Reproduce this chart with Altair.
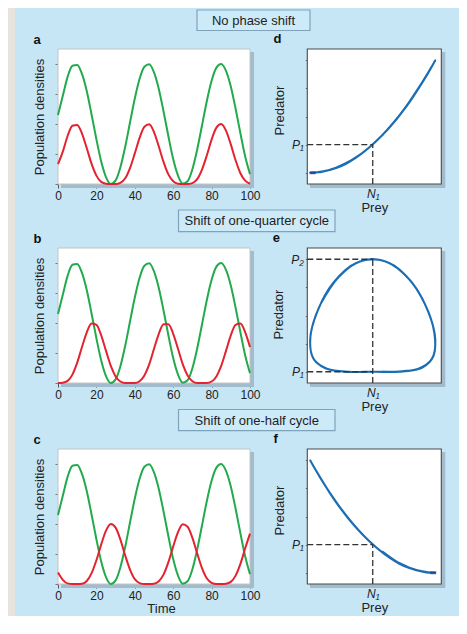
import altair as alt
import pandas as pd

# ---------------- data ----------------
TIME = [0, 2.5, 5, 7.5, 10, 12.5, 15, 17.5, 20, 22.5, 25, 27.5, 30, 32.5, 35, 37.5,
        40, 42.5, 45, 47.5, 50, 52.5, 55, 57.5, 60, 62.5, 65, 67.5, 70, 72.5, 75,
        77.5, 80, 82.5, 85, 87.5, 90, 92.5, 95, 97.5, 100]

PREY = [2.30, 2.94, 3.57, 3.94, 3.97, 3.67, 3.09, 2.31, 1.49, 0.75, 0.23, 0.00,
        0.12, 0.56, 1.24, 2.05, 2.85, 3.51, 3.91, 3.99, 3.72, 3.17, 2.41, 1.59,
        0.83, 0.28, 0.01, 0.09, 0.49, 1.15, 1.95, 2.76, 3.44, 3.88, 4.00, 3.77,
        3.25, 2.51, 1.69, 0.92, 0.33]

PRED_A = [0.66, 1.08, 1.60, 1.94, 1.97, 1.68, 1.19, 0.67, 0.28, 0.07, 0.01, 0.00,
          0.00, 0.04, 0.19, 0.53, 1.02, 1.54, 1.91, 1.99, 1.73, 1.25, 0.73, 0.32,
          0.09, 0.01, 0.00, 0.00, 0.03, 0.16, 0.48, 0.95, 1.48, 1.88, 2.00, 1.78,
          1.32, 0.79, 0.36, 0.11, 0.01]

PRED_B = [0.00, 0.01, 0.07, 0.28, 0.68, 1.20, 1.69, 1.98, 1.94, 1.59, 1.07, 0.57,
          0.22, 0.05, 0.00, 0.00, 0.00, 0.06, 0.25, 0.62, 1.14, 1.64, 1.96, 1.96,
          1.64, 1.14, 0.62, 0.25, 0.06, 0.00, 0.00, 0.00, 0.05, 0.22, 0.57, 1.07,
          1.59, 1.94, 1.98, 1.69, 1.20]

PRED_C = [0.38, 0.14, 0.02, 0.00, 0.00, 0.01, 0.10, 0.36, 0.79, 1.32, 1.78, 2.00,
          1.88, 1.48, 0.95, 0.48, 0.16, 0.03, 0.00, 0.00, 0.01, 0.09, 0.32, 0.73,
          1.25, 1.73, 1.99, 1.91, 1.54, 1.02, 0.53, 0.19, 0.04, 0.00, 0.00, 0.01,
          0.07, 0.28, 0.67, 1.19, 1.68]

TIME_TICKS = [0, 20, 40, 60, 80, 100]
DENSITY_TICKS = [0, 1, 2, 3, 4]
PREY_TICKS = [0, 1, 2, 3, 4]
PRED_TICKS = [0, 0.5, 1, 1.5, 2]

TITLES = ["No phase shift", "Shift of one-quarter cycle", "Shift of one-half cycle"]
LEFT_LETTERS = ["a", "b", "c"]
RIGHT_LETTERS = ["d", "e", "f"]

N1 = 2.0
P1 = [0.5, 0.0, 0.5]
P2 = 2.0
END_MARK_D = [0.08, 0.0]
END_MARK_F = [3.93, 0.0]

# ---------------- style ----------------
FONT = "Liberation Sans"
BLUE_BG = "#c6e6f6"
BOX_FILL = "#cdeaf8"
BOX_STROKE = "#7fa3bb"
SHADOW = "#a3bccd"
GREEN = "#22aa4c"
RED = "#e3232f"
CURVE = "#1b6db4"
MARK = "#1d3c8c"
BEIGE = "#e7e4dd"

LW, LH = 192, 135
RW, RH = 134, 135
X_DOM = [-0.09, 4.19]
Y_DOM = [-0.2, 2.2]

ONE = pd.DataFrame({"k": [0]})


def frame(w, h, stroke, sw):
    shadow = alt.Chart(ONE).mark_rect(color=SHADOW).encode(
        x=alt.value(3), x2=alt.value(w + 4), y=alt.value(3), y2=alt.value(h + 4))
    white = alt.Chart(ONE).mark_rect(fill="white", stroke=stroke, strokeWidth=sw).encode(
        x=alt.value(0), x2=alt.value(w), y=alt.value(0), y2=alt.value(h))
    return [shadow, white]


def letter_title(t):
    return alt.TitleParams(text=t, anchor="start", font=FONT, fontSize=13,
                           fontWeight="bold", color="#111", offset=2)


def left_panel(pred, letter, show_time):
    df = pd.DataFrame({"t": TIME, "Prey": PREY, "Predator": pred}).melt(
        "t", var_name="species", value_name="v")
    xaxis = dict(values=TIME_TICKS, tickSize=4, tickColor="#555", labelPadding=2,
                 labelFontSize=12, labelFlush=False, labelOverlap=False)
    if show_time:
        xaxis.update(title="Time", titlePadding=1, titleX=103)
    else:
        xaxis.update(title=None)
    lines = alt.Chart(df).mark_line(strokeWidth=2, interpolate="monotone").encode(
        x=alt.X("t:Q", scale=alt.Scale(domain=[0, 100], nice=False), axis=alt.Axis(**xaxis)),
        y=alt.Y("v:Q", scale=alt.Scale(domain=[0, 4.5], nice=False),
                axis=alt.Axis(values=DENSITY_TICKS, labels=False, tickSize=3,
                              tickColor="#777", title="Population densities",
                              titlePadding=8)),
        color=alt.Color("species:N", scale=alt.Scale(domain=["Prey", "Predator"],
                                                     range=[GREEN, RED]), legend=None),
    )
    return alt.layer(*frame(LW, LH, "#c4c4c4", 1), lines).properties(
        width=LW, height=LH, title=letter_title(letter))


def right_panel(pred, letter, ylabel_expr, guides, end_mark, title_y):
    df = pd.DataFrame({"t": TIME, "prey": PREY, "pred": pred})
    xs = alt.Scale(domain=X_DOM, nice=False, zero=False)
    ys = alt.Scale(domain=Y_DOM, nice=False, zero=False)
    xax = alt.Axis(values=PREY_TICKS, labelExpr="datum.value == 2 ? 'N₁' : ''",
                   labelFontStyle="italic", labelFontSize=12, tickSize=2,
                   tickColor="#666", labelPadding=2, labelFlush=False,
                   labelOverlap=False, title="Prey", titlePadding=2)
    yax = alt.Axis(values=PRED_TICKS, labelExpr=ylabel_expr,
                   labelFontStyle="italic", labelFontSize=12, tickSize=2,
                   tickColor="#666", labelPadding=2, labelOverlap=False,
                   labelFlush=False, title="Predator", titlePadding=5, titleY=title_y)
    gdf = pd.DataFrame(guides, columns=["prey", "prey2", "pred", "pred2"])
    curve = alt.Chart(df).mark_line(color=CURVE, strokeWidth=2, interpolate="catmull-rom").encode(
        x=alt.X("prey:Q", scale=xs, axis=xax),
        y=alt.Y("pred:Q", scale=ys, axis=yax),
        order="t:Q",
    )
    dashes = alt.Chart(gdf).mark_rule(color="#333", strokeWidth=1.3, strokeDash=[6, 3]).encode(
        x=alt.X("prey:Q", scale=xs, axis=xax), x2="prey2:Q",
        y=alt.Y("pred:Q", scale=ys, axis=yax), y2="pred2:Q")
    layers = frame(RW, RH, "#4a4a4a", 1.1) + [curve, dashes]
    if end_mark is not None:
        mdf = pd.DataFrame({"prey": [end_mark[0]], "pred": [end_mark[1]]})
        layers.append(alt.Chart(mdf).mark_tick(color=MARK, orient="horizontal",
                                               size=6, thickness=3).encode(
            x=alt.X("prey:Q", scale=xs, axis=xax), y=alt.Y("pred:Q", scale=ys, axis=yax)))
    return alt.layer(*layers).properties(width=RW, height=RH, title=letter_title(letter))


def title_strip(i, h, bx1, bx2, by1, by2, decor=False):
    d = pd.DataFrame({"label": [TITLES[i]]})
    box = alt.Chart(d).mark_rect(fill=BOX_FILL, stroke=BOX_STROKE, strokeWidth=1.2).encode(
        x=alt.value(bx1), x2=alt.value(bx2), y=alt.value(by1), y2=alt.value(by2))
    txt = alt.Chart(d).mark_text(font=FONT, fontSize=13, color="#222").encode(
        x=alt.value((bx1 + bx2) / 2), y=alt.value((by1 + by2) / 2 + 0.5), text="label:N")
    layers = []
    if decor:
        layers += [
            alt.Chart(ONE).mark_rect(color=BEIGE).encode(
                x=alt.value(-50), x2=alt.value(-43), y=alt.value(0), y2=alt.value(608)),
            alt.Chart(ONE).mark_rect(color=BLUE_BG).encode(
                x=alt.value(399), x2=alt.value(401), y=alt.value(0), y2=alt.value(2)),
        ]
    layers += [box, txt]
    return alt.layer(*layers).properties(width=LW, height=h)


def empty(h):
    return alt.Chart(ONE).mark_point(opacity=0).properties(width=RW, height=h)


guides_d = [[X_DOM[0], N1, P1[0], P1[0]], [N1, N1, Y_DOM[0], P1[0]]]
guides_e = [[X_DOM[0], N1, P2, P2], [N1, N1, Y_DOM[0], P2], [X_DOM[0], N1, P1[1], P1[1]]]
guides_f = [[X_DOM[0], N1, P1[2], P1[2]], [N1, N1, Y_DOM[0], P1[2]]]

P1_EXPR = "abs(datum.value - 0.5) < 0.01 ? 'P₁' : ''"
P12_EXPR = "abs(datum.value) < 0.01 ? 'P₁' : (abs(datum.value - 2) < 0.01 ? 'P₂' : '')"

cells = [
    title_strip(0, 41, 139, 252, 2, 22.5, decor=True), empty(41),
    left_panel(PRED_A, LEFT_LETTERS[0], False),
    right_panel(PRED_A, RIGHT_LETTERS[0], P1_EXPR, guides_d, END_MARK_D, 61),
    title_strip(1, 64, 120.5, 277, 26, 47.7), empty(64),
    left_panel(PRED_B, LEFT_LETTERS[1], False),
    right_panel(PRED_B, RIGHT_LETTERS[1], P12_EXPR, guides_e, None, 66),
    title_strip(2, 66, 120.5, 277, 26.5, 47.7), empty(66),
    left_panel(PRED_C, LEFT_LETTERS[2], True),
    right_panel(PRED_C, RIGHT_LETTERS[2], P1_EXPR, guides_f, END_MARK_F, 61),
]

chart = alt.concat(*cells, columns=2, spacing={"row": 0, "column": 57.3},
                   bounds="flush", align="each").properties(
    padding=0, background=BLUE_BG
).configure_view(strokeWidth=0).configure_axis(
    labelFont=FONT, titleFont=FONT, labelColor="#222", titleColor="#222",
    labelFontSize=12, titleFontSize=13, titleFontWeight="normal", domain=False, grid=False
)

chart.save("out.html", embed_options={"renderer": "svg", "actions": False})
